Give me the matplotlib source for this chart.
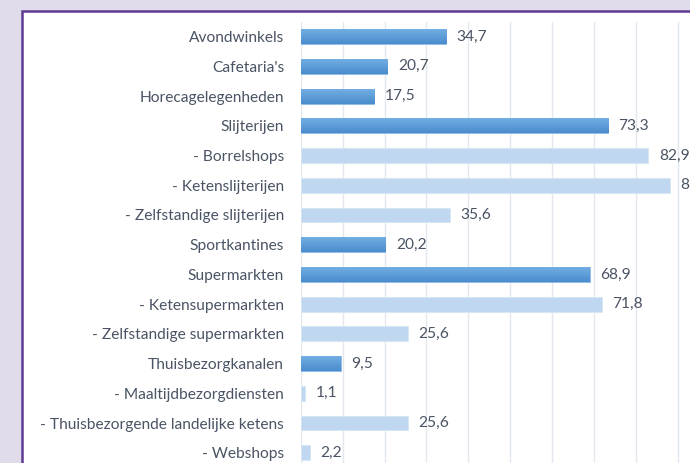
import matplotlib
matplotlib.use("Agg")
import matplotlib.pyplot as plt
from matplotlib.patches import Rectangle
from matplotlib.colors import LinearSegmentedColormap
import numpy as np

categories = ["Avondwinkels", "Cafetaria's", "Horecagelegenheden", "Slijterijen",
              "- Borrelshops", "- Ketenslijterijen", "- Zelfstandige slijterijen",
              "Sportkantines", "Supermarkten", "- Ketensupermarkten",
              "- Zelfstandige supermarkten", "Thuisbezorgkanalen",
              "- Maaltijdbezorgdiensten", "- Thuisbezorgende landelijke ketens",
              "- Webshops"]
values = [34.7, 20.7, 17.5, 73.3, 82.9, 88.1, 35.6, 20.2, 68.9, 71.8, 25.6, 9.5, 1.1, 25.6, 2.2]
is_sub = [c.startswith("-") for c in categories]
value_labels = [f"{v:.1f}".replace(".", ",") for v in values]

W, H = 690, 463
fig = plt.figure(figsize=(W / 100, H / 100), dpi=100)
fig.patch.set_facecolor("#e0dcec")

# white panel with purple border
fig.patches.append(Rectangle((22 / W, -0.1), 1.2, (H - 11) / H + 0.1, transform=fig.transFigure,
                             facecolor="white", edgecolor="#5e3a92", linewidth=1.8, zorder=-1))

ax = fig.add_axes([300.7 / W, -0.0099, (720 - 300.7) / W, 0.9529 + 0.0099])
ax.set_facecolor("none")

y = np.arange(len(categories))
dark = "#5b9bd5"
light = "#c0d8ef"
bars = ax.barh(y, values, height=0.5, color=[light if s else dark for s in is_sub],
               edgecolor=["#d6e6f5" if s else "#8dbbe6" for s in is_sub], linewidth=0.6, zorder=3)

# vertical gradient on main bars
grad = np.linspace(0, 1, 64).reshape(-1, 1)
cmap = LinearSegmentedColormap.from_list("g", ["#72aee3", "#4a8ccc"])
for b, s in zip(bars, is_sub):
    if s:
        continue
    x0, y0, w, h = b.get_x(), b.get_y(), b.get_width(), b.get_height()
    im = ax.imshow(grad, extent=(x0, x0 + w, y0 + h, y0), aspect="auto", cmap=cmap,
                   zorder=3.5, interpolation="bilinear")
    im.set_clip_path(b)
ax.set_xlim(0, 100)
ax.set_ylim(len(categories) - 0.5, -0.5)

text_color = "#4a5464"
font = "Lato"
fs = 11.2
for yi, v, lab in zip(y, values, value_labels):
    ax.text(v + 2.5, yi, lab, va="center", ha="left", fontsize=fs, color=text_color,
            family=font, zorder=4)

ax.set_yticks(y)
ax.set_yticklabels(categories, fontsize=fs, color=text_color, family=font)
ax.tick_params(axis="y", length=0, pad=12)
ax.set_xticks(np.arange(0, 101, 10))
ax.tick_params(axis="x", length=0, labelbottom=False)
ax.grid(axis="x", color="#e3e7ee", linewidth=1.0, zorder=0)
ax.set_axisbelow(True)
for sp in ax.spines.values():
    sp.set_visible(False)

fig.savefig("out.png", dpi=100)
